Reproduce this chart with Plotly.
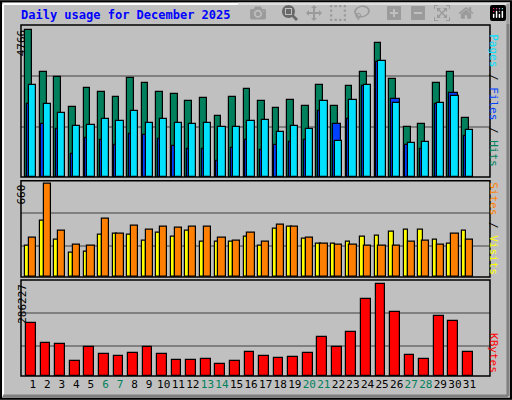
import plotly.graph_objects as go

# Daily usage, December 2025
days = list(range(1, 32))
weekend = [6, 7, 13, 14, 20, 21, 27, 28]

hits = [4766, 3378, 3216, 2276, 2892, 2762, 2600, 3184, 3022, 2762, 2697, 2470, 2568, 1984, 2600, 2859,
        2470, 2243, 2503, 2308, 2989, 2308, 2957, 3378, 4318, 3151, 1627, 1725, 3022, 3378, 1919]
files = [2989, 2373, 2081, 1660, 1692, 1887, 1822, 2146, 1757, 1887, 1757, 1725, 1757, 1627, 1627, 1822,
         1854, 1465, 1660, 1563, 2470, 1174, 2503, 2989, 3735, 2406, 1109, 1141, 2406, 2632, 1530]
pages = [2373, 1725, 1563, 752, 1271, 1206, 1044, 1400, 1368, 1238, 1011, 914, 914, 525, 947, 1206,
         882, 1044, 1141, 1206, 2146, 1725, 1887, 2957, 3702, 2535, 1044, 914, 2373, 2730, 1336]
sites = [223, 401, 266, 173, 180, 301, 308, 301, 259, 316, 287, 330, 252, 252, 252, 287,
         223, 344, 358, 273, 237, 237, 252, 287, 294, 323, 337, 337, 266, 237, 330]
visits = [280, 660, 330, 230, 223, 415, 308, 365, 337, 358, 351, 358, 358, 280, 259, 316,
          252, 373, 358, 280, 237, 230, 230, 223, 223, 223, 252, 259, 230, 308, 266]
kbytes = [164448, 101998, 98876, 45795, 89509, 67652, 61407, 70774, 89509, 67652, 48918, 48918, 52040,
          36428, 45795, 73897, 61407, 55162, 58285, 70774, 120733, 89509, 136345, 239384, 286227,
          198793, 64530, 52040, 186303, 170691, 73897]

GREEN = "#00805C"
CYAN = "#00E0FF"
BLUE = "#0040FF"
YELLOW = "#FFFF00"
ORANGE = "#FF8000"
RED = "#FF0000"
FONT = "DejaVu Sans Mono"

fig = go.Figure()


def bar(y, color, offset, width, axis):
    fig.add_trace(go.Bar(x=days, y=y, offset=offset, width=width, yaxis=axis,
                         marker=dict(color=color, line=dict(color="black", width=1.2)),
                         showlegend=False))


bar(hits, GREEN, -0.51, 0.46, "y")
bar(pages, BLUE, -0.4, 0.6, "y")
bar(files, CYAN, -0.25, 0.5, "y")
bar(sites, YELLOW, -0.51, 0.3, "y2")
bar(visits, ORANGE, -0.25, 0.5, "y2")
bar(kbytes, RED, -0.45, 0.67, "y3")

ticktext = [f"<span style='color:{GREEN}'>{d}</span>" if d in weekend else str(d) for d in days]

dom_top = [0.5575, 0.9375]
dom_mid = [0.3075, 0.548]
dom_bot = [0.06, 0.30]
xdom = [0.041, 0.957]


def yax(domain, rng, grid):
    return dict(domain=domain, range=rng, tickvals=grid, showticklabels=False,
                gridcolor="#808080", gridwidth=1.5, zeroline=False, fixedrange=True)


fig.update_layout(
    width=512, height=400, margin=dict(l=0, r=0, t=0, b=0),
    paper_bgcolor="#C0C0C0", plot_bgcolor="#C0C0C0",
    barmode="overlay", bargap=0,
    xaxis=dict(domain=xdom, range=[0.196, 32.41], tickvals=days, ticktext=ticktext, tickangle=0,
               showgrid=False, ticks="", anchor="y3", tickfont=dict(family=FONT, size=11, color="black")),
    yaxis=yax(dom_top, [0, 4912], [1605, 3258]),
    yaxis2=yax(dom_mid, [0, 683], [218, 451]),
    yaxis3=yax(dom_bot, [0, 299750], [93672, 195670]),
    font=dict(family=FONT),
)

shapes = [
    dict(type="rect", xref="paper", yref="paper", x0=0.002, x1=0.998, y0=0.003, y1=0.997,
         line=dict(color="black", width=2)),
    dict(type="line", xref="paper", yref="paper", x0=0.006, x1=0.006, y0=0.01, y1=0.99,
         line=dict(color="white", width=2)),
    dict(type="line", xref="paper", yref="paper", x0=0.006, x1=0.99, y0=0.99, y1=0.99,
         line=dict(color="white", width=2)),
    dict(type="line", xref="paper", yref="paper", x0=0.992, x1=0.992, y0=0.01, y1=0.99,
         line=dict(color="#808080", width=3)),
    dict(type="line", xref="paper", yref="paper", x0=0.006, x1=0.992, y0=0.01, y1=0.01,
         line=dict(color="#808080", width=3)),
]
for d in (dom_top, dom_mid, dom_bot):
    shapes.append(dict(type="rect", xref="paper", yref="paper", x0=xdom[0], x1=xdom[1],
                       y0=d[0], y1=d[1], line=dict(color="black", width=1.5)))
fig.update_layout(shapes=shapes)

annotations = [
    dict(text="<b>Daily usage for December 2025</b>", x=0.037, y=0.962, xanchor="left", yanchor="middle",
         font=dict(color="#0000FF", size=12)),
    dict(text="4766", x=0.026, y=dom_top[1] - 0.005, textangle=-90),
    dict(text="660", x=0.026, y=dom_mid[1] - 0.005, textangle=-90),
    dict(text="286227", x=0.026, y=dom_bot[1] - 0.005, textangle=-90),
    dict(text=f"<span style='color:{CYAN}'>Pages</span> / <span style='color:{BLUE}'>Files</span>"
              f" / <span style='color:{GREEN}'>Hits</span>",
         x=0.979, y=sum(dom_top) / 2, yanchor="middle", textangle=90, font=dict(size=11, color="black")),
    dict(text=f"<span style='color:{ORANGE}'>Sites</span> / <span style='color:{YELLOW}'>Visits</span>",
         x=0.979, y=sum(dom_mid) / 2, yanchor="middle", textangle=90, font=dict(size=11, color="black")),
    dict(text="KBytes", x=0.979, y=dom_bot[0] + 0.003, yanchor="bottom", textangle=90,
         font=dict(size=11, color=RED)),
]
for a in annotations:
    a.setdefault("xref", "paper")
    a.setdefault("yref", "paper")
    a.setdefault("showarrow", False)
    a.setdefault("yanchor", "top")
    a.setdefault("font", dict(size=11, color="black"))
    if "family" not in a["font"]:
        a["font"]["family"] = FONT
fig.update_layout(annotations=annotations)

fig.write_html("out.html", post_script="document.body.style.margin='0';")
